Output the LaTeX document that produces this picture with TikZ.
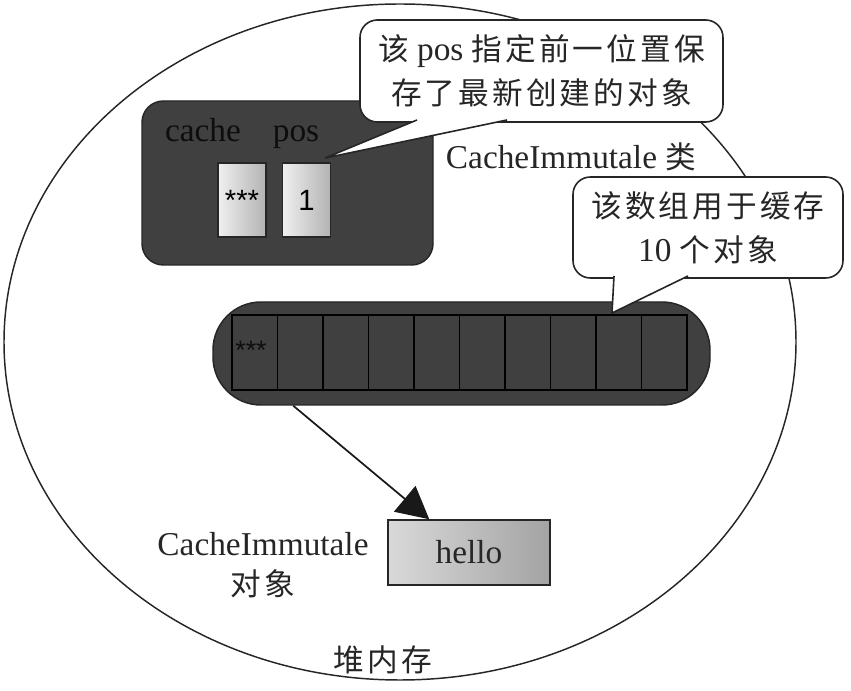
\documentclass[tikz,border=0pt]{standalone}
\usepackage{fontspec}
\setmainfont{Liberation Serif}
\newfontfamily\cjk[Scale=0.92,LetterSpace=10]{Noto Sans CJK SC}
\newfontfamily\arial{Liberation Sans}
\usetikzlibrary{shapes.geometric,arrows.meta,calc}

\tikzset{
  txt/.style={font=\fontsize{25pt}{33pt}\selectfont, text=black!85, inner sep=0pt},
  darkbox/.style={draw=black!85, line width=1.1pt, fill=black!75, inner sep=0pt},
  lightcell/.style={draw=black!85, line width=1.1pt, left color=gray!12, right color=gray!60, inner sep=0pt, minimum width=36pt, minimum height=55.5pt},
  arrcell/.style={draw=black, line width=1.1pt, inner sep=0pt, minimum width=34.1pt, minimum height=56.25pt},
  bubble/.style={txt, draw=black!85, line width=1.2pt, fill=white, rounded corners=13pt, align=center},
  pointsto/.style={-{Triangle[length=24pt,width=25pt]}, line width=1.3pt, draw=black!90},
}

\begin{document}
\begin{tikzpicture}[x=0.75pt, y=-0.75pt]
    \useasboundingbox (0,0) rectangle (851,691);

    \node[draw=black!85, line width=1.1pt, ellipse, inner sep=0pt, minimum width=594pt, minimum height=507pt] (heap) at (400,342) {};

    \node[darkbox, rounded corners=16pt, minimum width=218.25pt, minimum height=123pt] (klass) at (287.5,183) {};
    \node[txt, text=black!95, anchor=base] (lcache) at (203,142) {cache};
    \node[txt, text=black!95, anchor=base] (lpos) at (296,142) {pos};
    \node[lightcell] (cache) at (242,200) {\arial\fontsize{22pt}{22pt}\selectfont ***};
    \node[lightcell] (pos) at (306.5,200) {\arial\fontsize{22pt}{22pt}\selectfont 1};

    \node[bubble, minimum width=272.25pt, minimum height=76.5pt] (note1) at (541.5,71) {{\cjk 该} pos {\cjk 指定前一位置保}\\{\cjk 存了最新创建的对象}};
    \draw[fill=white, line width=1.2pt, draw=black!85] (417,120) -- (325,158) -- (507,120);
    \node[txt] (lclass) at (571,157) {CacheImmutale {\cjk 类}};

    \node[darkbox, rounded corners=36pt, minimum width=372.75pt, minimum height=77.25pt] (bar) at (461.5,353.5) {};
    \foreach \i in {1,...,10}
        \node[arrcell] (a\i) at ({232+45.5*(\i-0.5)},352.5) {};
    \node[font=\arial\fontsize{20pt}{20pt}\selectfont, text=black!95, inner sep=0pt] (stars) at (251,350) {***};

    \node[bubble, minimum width=202.5pt, minimum height=75.75pt] (note2) at (708,227.5) {{\cjk 该数组用于缓存}\\10 {\cjk 个对象}};
    \draw[fill=white, line width=1.2pt, draw=black!85] (614,276) -- (612,313) -- (688,276);

    \node[draw=black!85, line width=1.1pt, left color=gray!30, right color=gray!72, inner sep=0pt, minimum width=121.5pt, minimum height=48.75pt, txt] (hello) at (469,552.5) {hello};
    \node[txt, align=center] (lobj) at (263,565) {CacheImmutale\\[-3pt]{\cjk 对象}};
    \node[txt] (lheap) at (383,660) {\cjk 堆内存};

    \coordinate (from) at ($(a2.south |- bar.south)+(-7,0)$);
    \coordinate (to) at ($(hello.north west)+(42,0)$);
    \draw[pointsto] (from) -- (to);
\end{tikzpicture}
\end{document}
